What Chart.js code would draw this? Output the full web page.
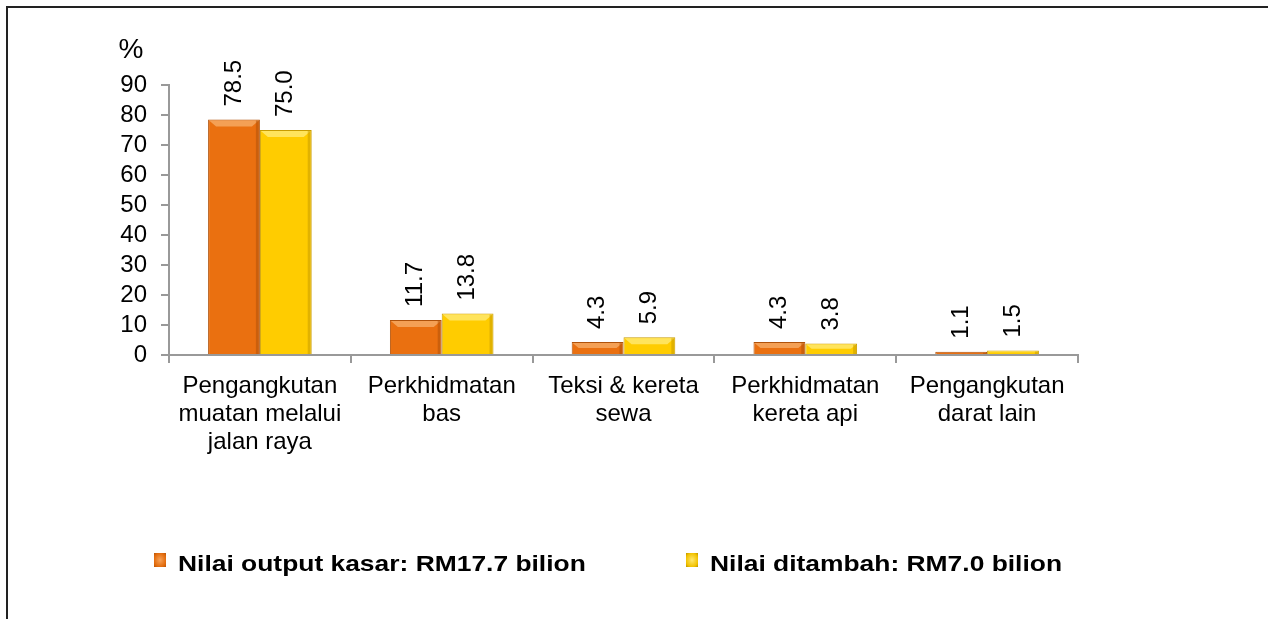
<!DOCTYPE html>
<html>
<head>
<meta charset="utf-8">
<script src="https://cdn.jsdelivr.net/npm/chart.js@4/dist/chart.umd.min.js"></script>
<style>
  body { margin: 0; background: #fff; font-family: "Liberation Sans", Arial, sans-serif; }
  #wrap { position: relative; width: 1268px; height: 619px; overflow: hidden; }
  #frame { position: absolute; left: 6px; top: 6px; right: -10px; bottom: -10px; border-top: 2px solid #222; border-left: 2px solid #222; }
  #chart { position: absolute; left: 0; top: 0; }
  .legend { position: absolute; top: 551px; font-weight: bold; font-size: 22px; line-height: 26px; color: #000; white-space: nowrap; }
  .legend i { position: absolute; left: 0; top: 2px; width: 12px; height: 14px; }
  .legend span { position: absolute; left: 24px; top: 0; display: inline-block; transform: scaleX(1.2); transform-origin: left center; }
</style>
</head>
<body>
<div id="wrap">
  <div id="frame"></div>
  <canvas id="chart" width="1268" height="619"></canvas>
  <div class="legend" style="left:154px"><i style="background:radial-gradient(#f7a35a,#e36c0d 70%,#b5540a)"></i><span id="s1"></span></div>
  <div class="legend" style="left:686px"><i style="background:radial-gradient(#ffe870,#f2c200 70%,#b89000)"></i><span id="s2"></span></div>
</div>
<script>
var categories = [
    ["Pengangkutan", "muatan melalui", "jalan raya"],
    ["Perkhidmatan", "bas"],
    ["Teksi & kereta", "sewa"],
    ["Perkhidmatan", "kereta api"],
    ["Pengangkutan", "darat lain"]
];
var outputKasar = [78.5, 11.7, 4.3, 4.3, 1.1];
var nilaiDitambah = [75.0, 13.8, 5.9, 3.8, 1.5];
var seriesNames = ["Nilai output kasar: RM17.7 bilion", "Nilai ditambah: RM7.0 bilion"];
var yUnit = "%";

var faceColors = ["#ea7010", "#ffcc00"];
var lightColors = ["#f4a055", "#ffe45c"];
var darkColors = ["#b0520a", "#c99c00"];

document.getElementById("s1").textContent = seriesNames[0];
document.getElementById("s2").textContent = seriesNames[1];

// bevel look on the bars, then value labels (rotated) and the "%" unit
var barLabels = {
    id: "barLabels",
    afterDatasetsDraw: function(chart){
        var ctx = chart.ctx;
        ctx.save();
        chart.data.datasets.forEach(function(ds, i){
            var meta = chart.getDatasetMeta(i);
            meta.data.forEach(function(bar){
                var l = bar.x - bar.width / 2, r = bar.x + bar.width / 2;
                var t = bar.y, b = bar.base;
                var bev = Math.min(7, (b - t) / 2);
                ctx.fillStyle = lightColors[i];
                ctx.beginPath();
                ctx.moveTo(l + 1, t + 1);
                ctx.lineTo(r - 1, t + 1);
                ctx.lineTo(r - 1 - bev, t + bev);
                ctx.lineTo(l + 1 + bev, t + bev);
                ctx.closePath();
                ctx.fill();
                ctx.fillStyle = darkColors[i];
                ctx.globalAlpha = 0.55;
                ctx.fillRect(r - 4, t + 1, 3, b - t - 1);
                ctx.globalAlpha = 1;
            });
        });

        ctx.fillStyle = "#000";
        ctx.font = "24px 'Liberation Sans', Arial, sans-serif";
        chart.data.datasets.forEach(function(ds, i){
            var meta = chart.getDatasetMeta(i);
            meta.data.forEach(function(bar, j){
                ctx.save();
                ctx.translate(bar.x, bar.y - 13);
                ctx.rotate(-Math.PI / 2);
                ctx.textAlign = "left";
                ctx.textBaseline = "middle";
                ctx.fillText(ds.data[j].toFixed(1), 0, 0);
                ctx.restore();
            });
        });
        var ys = chart.scales.y;
        ctx.font = "28px 'Liberation Sans', Arial, sans-serif";
        ctx.textAlign = "center";
        ctx.textBaseline = "middle";
        ctx.fillText(yUnit, ys.right - 38, ys.top - 35);
        ctx.restore();
    }
};

var chart = new Chart(document.getElementById("chart"), {
    type: "bar",
    data: {
        labels: categories,
        datasets: [
            {
                label: seriesNames[0],
                data: outputKasar,
                backgroundColor: faceColors[0],
                borderColor: darkColors[0],
                borderWidth: 1,
                categoryPercentage: 0.57,
                barPercentage: 1
            },
            {
                label: seriesNames[1],
                data: nilaiDitambah,
                backgroundColor: faceColors[1],
                borderColor: darkColors[1],
                borderWidth: 1,
                categoryPercentage: 0.57,
                barPercentage: 1
            }
        ]
    },
    options: {
        responsive: false,
        animation: false,
        layout: { padding: { top: 85, right: 190, bottom: 0, left: 0 } },
        plugins: {
            legend: { display: false },
            tooltip: { enabled: false }
        },
        scales: {
            x: {
                grid: { offset: true, drawOnChartArea: false, tickLength: 8, color: "#999", lineWidth: 2 },
                border: { color: "#999", width: 2 },
                ticks: {
                    color: "#000",
                    font: { size: 24, family: "'Liberation Sans', Arial, sans-serif", lineHeight: 1.15 },
                    padding: 10,
                    maxRotation: 0,
                    autoSkip: false
                },
                afterFit: function(s){ s.height = 264; }
            },
            y: {
                min: 0,
                max: 90,
                grid: { drawOnChartArea: false, tickLength: 8, color: "#999", lineWidth: 2 },
                border: { color: "#999", width: 2 },
                ticks: {
                    stepSize: 10,
                    autoSkip: false,
                    color: "#000",
                    font: { size: 24, family: "'Liberation Sans', Arial, sans-serif" },
                    padding: 14
                },
                afterFit: function(s){ s.width = 169; }
            }
        }
    },
    plugins: [barLabels]
});
</script>
</body>
</html>
